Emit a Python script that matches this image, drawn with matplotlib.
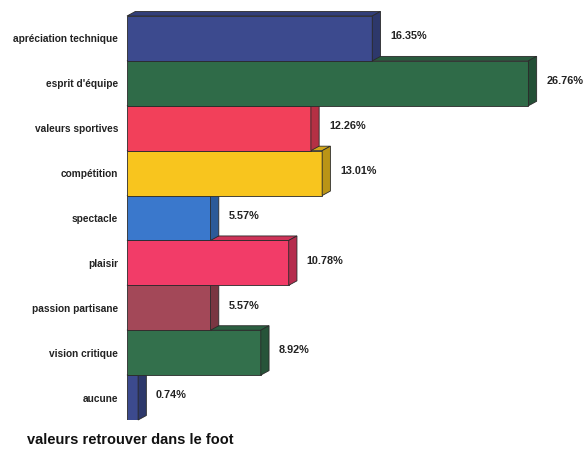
import numpy as np
import matplotlib
matplotlib.use("Agg")
import matplotlib.pyplot as plt
from matplotlib.patches import Polygon
from matplotlib.colors import to_rgb

# data
categories = ["apréciation technique", "esprit d'équipe", "valeurs sportives",
              "compétition", "spectacle", "plaisir", "passion partisane",
              "vision critique", "aucune"]
values = [16.35, 26.76, 12.26, 13.01, 5.57, 10.78, 5.57, 8.92, 0.74]
value_labels = ["16.35%", "26.76%", "12.26%", "13.01%", "5.57%",
                "10.78%", "5.57%", "8.92%", "0.74%"]
colors = ["#3c4a8e", "#2f6b48", "#f2405a", "#f8c51e", "#3a78cc",
          "#f23c68", "#a34858", "#33704c", "#3c4a8e"]
title = "valeurs retrouver dans le foot"

plt.rcParams['font.family'] = ['Liberation Sans', 'DejaVu Sans']

fig = plt.figure(figsize=(5.83, 4.54), dpi=100)
# axes placed in pixels: bars start at x=127, rows from y=16 to y=420
W, H = 583, 454
ax = fig.add_axes([127 / W, (H - 420) / H, (W - 127) / W, 404 / H])
ax.set_xlim(0, (W - 127) / 15.0)
ax.set_ylim(len(values) - 0.5, -0.5)

# 3D depth in data units
dx, dy = 0.55, 0.1


def shade(c, f):
    r, g, b = to_rgb(c)
    return (r * f, g * f, b * f)


ypos = np.arange(len(values))
# draw from the bottom row up so upper bars cover the faces of lower ones
for i in reversed(range(len(values))):
    v, y, c = values[i], ypos[i], colors[i]
    z = 10 + (len(values) - i)
    top, bot = y - 0.5, y + 0.5
    ax.barh(y, v, height=1.0, color=c, edgecolor="#2a2a2a", linewidth=0.6, zorder=z)
    top_face = Polygon([(0, top), (dx, top - dy), (v + dx, top - dy), (v, top)],
                       closed=True, facecolor=shade(c, 0.85), edgecolor="#2a2a2a",
                       linewidth=0.6, zorder=z, clip_on=False)
    side_face = Polygon([(v, top), (v + dx, top - dy), (v + dx, bot - dy), (v, bot)],
                        closed=True, facecolor=shade(c, 0.75), edgecolor="#2a2a2a",
                        linewidth=0.6, zorder=z, clip_on=False)
    ax.add_patch(top_face)
    ax.add_patch(side_face)
    ax.text(v + dx + 0.65, y - 0.05, value_labels[i], va="center", ha="left",
            fontsize=7.8, fontweight="bold", color="#222222", zorder=30)

ax.set_yticks(ypos)
ax.set_yticklabels(categories, fontsize=7.3, fontweight="bold", color="#222222")
ax.tick_params(axis="y", length=0, pad=6.5)
ax.set_xticks([])
for s in ax.spines.values():
    s.set_visible(False)

fig.text(27 / W, 1 - 440 / H, title, fontsize=10.5, fontweight="bold",
         color="#111111", va="center", ha="left")

fig.savefig("out.png", dpi=100)
